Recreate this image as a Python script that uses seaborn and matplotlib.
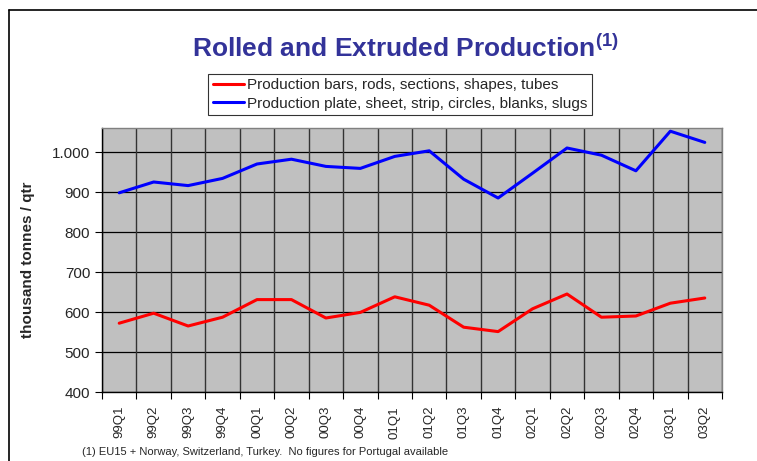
import matplotlib
matplotlib.use("Agg")
import matplotlib.pyplot as plt
import seaborn as sns
import pandas as pd
from matplotlib.ticker import FuncFormatter, FixedLocator
from matplotlib.lines import Line2D

quarters = ["99Q1", "99Q2", "99Q3", "99Q4", "00Q1", "00Q2", "00Q3", "00Q4",
            "01Q1", "01Q2", "01Q3", "01Q4", "02Q1", "02Q2", "02Q3", "02Q4",
            "03Q1", "03Q2"]
bars_rods = [572, 597, 565, 587, 631, 631, 585, 599, 638, 617, 562, 551,
             608, 645, 587, 590, 622, 635]
plate_sheet = [898, 925, 916, 934, 970, 982, 964, 959, 989, 1003, 932, 885,
               947, 1010, 992, 953, 1052, 1024]
series_names = ["Production bars, rods, sections, shapes, tubes",
                "Production plate, sheet, strip, circles, blanks, slugs"]
series_colors = ["#FF0000", "#0000FF"]
y_ticks = [400, 500, 600, 700, 800, 900, 1000]

sns.set_theme(style="white")
plt.rcParams['font.family'] = ['Liberation Sans', 'DejaVu Sans']
plt.rcParams['mathtext.fontset'] = 'custom'
plt.rcParams['mathtext.rm'] = 'Liberation Sans'
plt.rcParams['mathtext.bf'] = 'Liberation Sans:bold'

df = pd.DataFrame({
    "quarter": quarters * 2,
    "pos": list(range(len(quarters))) * 2,
    "value": bars_rods + plate_sheet,
    "series": [series_names[0]] * len(quarters) + [series_names[1]] * len(quarters),
})

fig = plt.figure(figsize=(7.57, 4.61), dpi=100)
ax = fig.add_axes([102/757, 1-392/461, (722-102)/757, (392-128)/461])
ax.set_facecolor("#C0C0C0")

sns.lineplot(data=df, x="pos", y="value", hue="series", palette=series_colors,
             hue_order=series_names, ax=ax, linewidth=2.2, legend=False, zorder=3)

n = len(quarters)
ax.set_xlim(-0.5, n - 0.5)
ax.set_ylim(400, 1060)

# grid
for yv in y_ticks:
    ax.axhline(yv, color="black", lw=0.9, zorder=1)
for i in range(n + 1):
    ax.axvline(i - 0.5, color="#333333", lw=1.0, zorder=1)

ax.set_xticks(range(n))
ax.set_xticklabels(quarters, rotation=90, fontsize=9.5)
ax.xaxis.set_minor_locator(FixedLocator([i - 0.5 for i in range(n + 1)]))
ax.tick_params(axis="x", which="major", length=0, pad=10)
ax.tick_params(axis="x", which="minor", length=5, width=0.8, color="black", direction="out", bottom=True)
ax.set_yticks(y_ticks)
ax.yaxis.set_major_formatter(FuncFormatter(lambda v, p: f"{int(v):,}".replace(",", ".")))
ax.tick_params(axis="y", length=5, width=0.8, color="black", direction="out", left=True, labelsize=11)

for s in ["left", "bottom"]:
    ax.spines[s].set_color("black")
    ax.spines[s].set_linewidth(1.0)
for s in ["top", "right"]:
    ax.spines[s].set_color("#808080")
    ax.spines[s].set_linewidth(1.0)

ax.set_xlabel("")
ax.set_ylabel("thousand tonnes / qtr", fontsize=11, fontweight="bold", labelpad=12)

# title
fig.text(192/757, 1-57/461, r"Rolled and Extruded Production$^{\mathbf{(1)}}$", ha="left", va="baseline",
         fontsize=19, fontweight="bold", color="#333399")

# legend
handles = [Line2D([0], [0], color=c, lw=2.2) for c in series_colors]
leg = fig.legend(handles, series_names, loc="center", bbox_to_anchor=(400/757, 1-94.5/461),
                 frameon=True, fontsize=11, handlelength=2.0, handletextpad=0.2,
                 borderpad=0.3, labelspacing=0.3, fancybox=False, edgecolor="black")
leg.get_frame().set_linewidth(0.8)

# footnote
fig.text(82/757, 1-455/461, "(1) EU15 + Norway, Switzerland, Turkey.  No figures for Portugal available",
         fontsize=8, va="baseline", ha="left")

# frame lines
fig.add_artist(Line2D([9/757, 9/757], [0, 1-10/461], color="black", lw=1.2, transform=fig.transFigure))
fig.add_artist(Line2D([9/757, 1], [1-10/461, 1-10/461], color="black", lw=1.2, transform=fig.transFigure))

fig.savefig("out.png", dpi=100)
